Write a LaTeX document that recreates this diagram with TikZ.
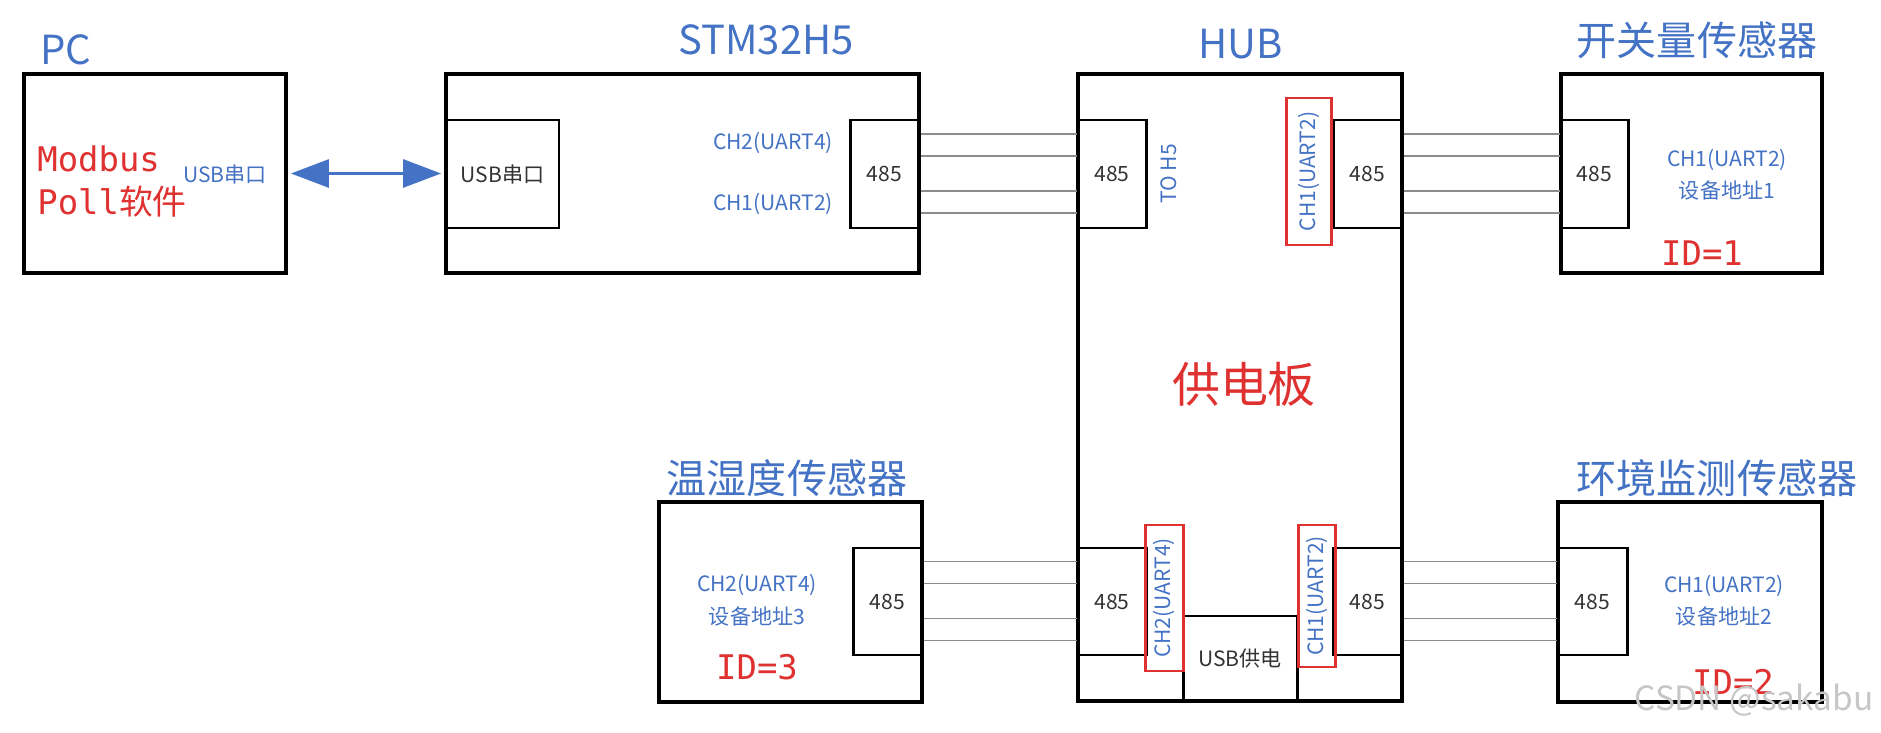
\documentclass[tikz,border=0pt]{standalone}
\usepackage{fontspec}
\setmainfont{Noto Sans CJK SC}
\setmonofont{DejaVu Sans Mono}
\newfontfamily\cjk{Noto Sans CJK SC}
\usepackage{xcolor}
\usetikzlibrary{arrows.meta,positioning,fit,calc}
\definecolor{lblue}{HTML}{4472C4}
\definecolor{lred}{HTML}{E03131}
\definecolor{wiregray}{HTML}{8C8C8C}

\begin{document}
\begin{tikzpicture}[x=0.02cm, y=-0.02cm,
    board/.style={draw, line width=2.8pt, inner sep=0pt},
    port/.style={draw, line width=1.7pt, inner sep=0pt},
    redframe/.style={draw=lred, line width=1.7pt, inner sep=0pt},
    title/.style={text=lblue, inner sep=0pt, font=\fontsize{22.8}{26}\selectfont},
    chlbl/.style={text=lblue, inner sep=0pt, font=\fontsize{12}{14}\selectfont},
    plain/.style={text=black!80, inner sep=0pt, font=\fontsize{12}{14}\selectfont},
    idlbl/.style={text=lred, inner sep=0pt, font=\ttfamily\fontsize{19.3}{23}\selectfont},
    wire/.style={draw=wiregray, line width=1pt},
    dblarrow/.style={lblue, line width=1.7pt, shorten <=0.05cm, shorten >=0.05cm,
        {Triangle[length=0.76cm,width=0.56cm]}-{Triangle[length=0.76cm,width=0.56cm]}}
]
\useasboundingbox (0,0) rectangle (1881,733);

% boards
\node[board, fit={(24,74)(286,273)}] (pc) {};
\node[board, fit={(446,74)(919,273)}] (stm) {};
\node[board, fit={(1078,74)(1402,701)}] (hub) {};
\node[board, fit={(1561,74)(1822,273)}] (sw) {};
\node[board, fit={(659,502)(922,702)}] (th) {};
\node[board, fit={(1558,502)(1822,702)}] (env) {};

% ports
\node[port, fit={(446,120)(559,228)}] (stmusb) {};
\node[port, fit={(850,120)(919,228)}] (stm485) {};
\node[port, fit={(1078,120)(1146,228)}] (hubin) {};
\node[port, fit={(1333,120)(1402,228)}] (hubch1) {};
\node[port, fit={(1561,120)(1628,228)}] (sw485) {};
\node[port, fit={(853,548)(922,655)}] (th485) {};
\node[port, fit={(1078,548)(1146,655)}] (hubch2b) {};
\node[port, fit={(1333,548)(1402,655)}] (hubch1b) {};
\node[port, fit={(1558,548)(1627,655)}] (env485) {};
\node[port, fit={(1183,616)(1297,701)}] (usbpwr) {};

\node[redframe, fit={(1286,98)(1331,245)}] (r1) {};
\node[redframe, fit={(1145,525)(1183,671)}] (r2) {};
\node[redframe, fit={(1298,525)(1335,667)}] (r3) {};

% titles
\node[title] (pct) at (66,50) {PC};
\node[title] (stmt) at (766,40) {STM32H5};
\node[title] (hubt) at (1241,44) {HUB};
\node[title] (swt) at (1697,40) {开关量传感器};
\node[title] (tht) at (787,478) {温湿度传感器};
\node[title] (envt) at (1717,478) {环境监测传感器};

% texts
\node[idlbl, anchor=base west] (modbus) at (37,172) {Modbus};
\node[idlbl, anchor=base west] (poll) at (37,215) {Poll{\cjk 软件}};
\node[chlbl] (pcusb) at (225,174) {USB串口};
\node[plain] (stmusbt) at (stmusb) {USB串口};
\node[chlbl] (stmch2) at (773,143) {CH2(UART4)};
\node[chlbl] (stmch1) at (773,204) {CH1(UART2)};
\node[chlbl, rotate=90] (toh5) at (1169,174) {TO H5};
\node[chlbl, rotate=90] (hubch1t) at (r1) {CH1(UART2)};
\node[chlbl, rotate=90] (hubch2bt) at (r2) {CH2(UART4)};
\node[chlbl, rotate=90] (hubch1bt) at (r3) {CH1(UART2)};
\node[plain] (usbpwrt) at (usbpwr) {USB供电};
\node[text=lred, font=\fontsize{27.3}{30}\selectfont] (pwr) at (1244,384) {供电板};
\foreach \n in {stm485,hubin,hubch1,sw485,th485,hubch2b,hubch1b,env485}
    \node[plain] at (\n) {485};

\node[chlbl] (swch) at (1727,160) {CH1(UART2)};
\node[chlbl] (swaddr) at (1727,190) {设备地址1};
\node[idlbl] (id1) at (1702,253) {ID=1};
\node[chlbl] (thch) at (757,585) {CH2(UART4)};
\node[chlbl] (thaddr) at (757,616) {设备地址3};
\node[idlbl] (id3) at (757,667) {ID=3};
\node[chlbl] (envch) at (1724,586) {CH1(UART2)};
\node[chlbl] (envaddr) at (1724,616) {设备地址2};
\node[idlbl] (id2) at (1733,682) {ID=2};

% links
\draw[dblarrow] (pc.east) -- (stm.west);
\foreach \dy in {-40,-18,17,39} {
    \draw[wire] ($(stm485.east)+(0,\dy)$) -- ($(hubin.west)+(0,\dy)$);
    \draw[wire] ($(hubch1.east)+(0,\dy)$) -- ($(sw485.west)+(0,\dy)$);
    \draw[wire] ($(th485.east)+(0,\dy)$) -- ($(hubch2b.west)+(0,\dy)$);
    \draw[wire] ($(hubch1b.east)+(0,\dy)$) -- ($(env485.west)+(0,\dy)$);
}

\node[text=gray!45, font=\fontsize{19}{22}\selectfont] (wm) at (1754,700) {CSDN @sakabu};
\end{tikzpicture}
\end{document}
